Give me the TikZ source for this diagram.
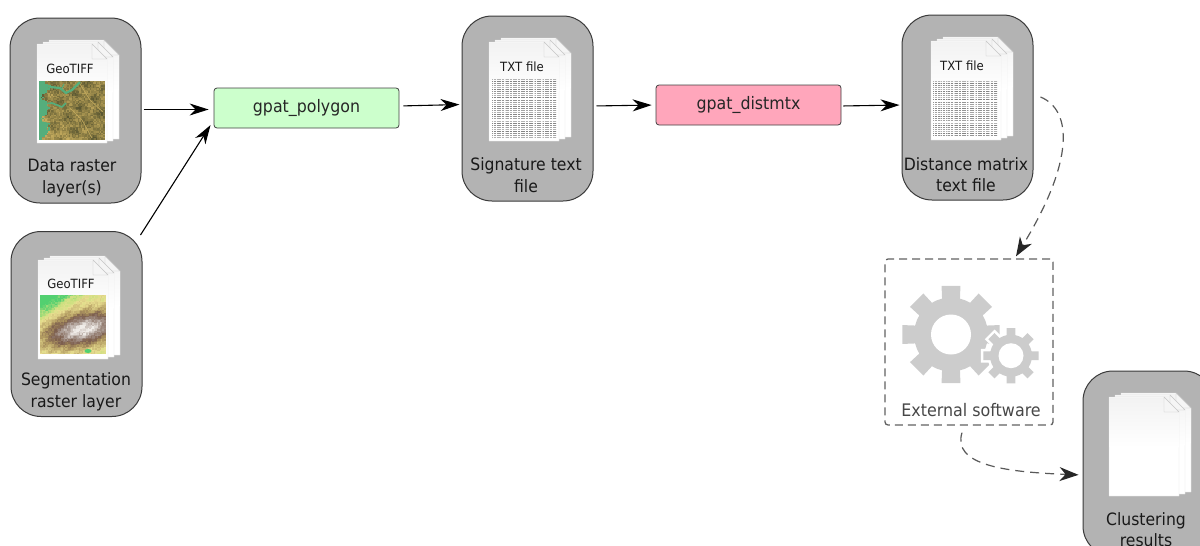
\documentclass[tikz,border=0pt]{standalone}
\usepackage{fontspec}
\setmainfont[FakeStretch=0.92]{DejaVu Sans}
\usetikzlibrary{arrows.meta,calc}
\definecolor{boxgray}{HTML}{B3B3B3}
\definecolor{boxline}{HTML}{3A3A3A}
\definecolor{gearc}{HTML}{CCCCCC}
\definecolor{sa}{HTML}{52D070}\definecolor{sb}{HTML}{C8E07E}\definecolor{sc}{HTML}{E8DE90}
\definecolor{sd}{HTML}{B39C62}\definecolor{se}{HTML}{7D5F4E}\definecolor{sf}{HTML}{AD9E96}\definecolor{sg}{HTML}{F0ECE8}
\definecolor{da}{HTML}{5A5732}\definecolor{db}{HTML}{8F8045}\definecolor{dc}{HTML}{C4AB5E}\definecolor{dg}{HTML}{55AE7C}
\tikzset{
  filebox/.style={draw=boxline,fill=boxgray,line width=1pt,rounded corners=30pt,minimum width=131pt,minimum height=185pt,inner sep=0pt},
  boxtext/.style={font=\fontsize{17}{21.5}\selectfont,align=center,text=black!90,inner sep=0pt},
  filetag/.style={font=\fontsize{12.7}{14}\selectfont,inner sep=0pt,text=black!90},
  toolbox/.style={draw=black!75,line width=.8pt,rounded corners=3pt,minimum width=185pt,minimum height=40pt,inner sep=0pt,font=\fontsize{17.2}{19}\selectfont,text=black!85},
  flow/.style={draw=black,line width=1.1pt,-{Stealth[length=19pt,width=12pt,inset=6pt]}},
  dflow/.style={draw=black!65,line width=1.2pt,dash pattern=on 9pt off 6pt,-{Stealth[length=19pt,width=14pt,inset=6pt,color=black!85]}},
  pagesheet/.style={fill=white,draw=black!12,line width=.4pt},
}
\newcommand\onesheet[2]{%
  \fill[pagesheet] (#1,#2) -- ++(55,0) -- ++(15,15) -- ++(0,84) -- ++(-70,0) -- cycle;
  \shade[top color=black!5,bottom color=white] (#1+.4,#2+.4) -- ++(54.4,0) -- ++(15,15) -- ++(0,35) -- ++(-69.4,0) -- cycle;
  \fill[black!4,draw=black!22,line width=.4pt] (#1+55,#2) -- ++(15,15) -- ++(-15,0) -- cycle;
}
\newcommand\pagestack[2]{%
  \onesheet{#1+12}{#2-4}\onesheet{#1+6}{#2-2}\onesheet{#1}{#2}%
}
\newcommand\mixc[3]{\pgfmathsetmacro\pp{min(100,max(0,100*(#3)))}\colorlet{cc}{#2!\pp!#1}}
\newcommand\segcol[1]{%
  \ifdim#1pt<.16pt\mixc{sa}{sb}{#1/.16}%
  \else\ifdim#1pt<.3pt\mixc{sb}{sc}{(#1-.16)/.14}%
  \else\ifdim#1pt<.5pt\mixc{sc}{sd}{(#1-.3)/.2}%
  \else\ifdim#1pt<.66pt\mixc{sd}{se}{(#1-.5)/.16}%
  \else\ifdim#1pt<.84pt\mixc{se}{sf}{(#1-.66)/.18}%
  \else\mixc{sf}{sg}{(#1-.84)/.16}\fi\fi\fi\fi\fi}
\newcommand\datacol[1]{%
  \ifdim#1pt<.5pt\mixc{da}{db}{#1/.5}\else\mixc{db}{dc}{(#1-.5)/.5}\fi}
% text block: x0 y0 width rows colgap-list
\newcommand\textblock[5]{%
  \foreach \r in {0,...,#4}{%
    \pgfmathsetmacro\yy{#2+\r*2.1}
    \pgfmathsetmacro\shadeop{30+mod(\r*7,4)*6}
    \draw[black!\shadeop,line width=1pt,dash pattern=on 1.2pt off .4pt]
      (#1,\yy) -- (#1+#3,\yy);
  }
  \foreach \c in {#5}{\draw[white,opacity=.55,line width=.9pt] (#1+\c,#2-.5) -- (#1+\c,#2+#4*2.1+.5);}%
}
\newcommand\gearshape[6]{% cx cy rout rroot halfwidth-angle style
  \begin{scope}[shift={(#1,#2)}]
    \path[#6] (-22:#4)
      \foreach \a in {0,45,...,315}{
        -- (\a-22:#4) -- (\a-#5-3:#4) -- (\a-#5:#3) -- (\a+#5:#3) -- (\a+#5+3:#4) -- (\a+22:#4)
      } -- cycle;
  \end{scope}}
\begin{document}
\begin{tikzpicture}[x=1pt,y=-1pt]
\useasboundingbox (0,0) rectangle (1200,546);
\clip (0,0) rectangle (1200,546);

% file boxes
\node[filebox] (data) at (75.5,110.5) {};
\node[filebox] (seg) at (76.5,324) {};
\node[filebox] (sig) at (527.5,108.5) {};
\node[filebox] (dist) at (967.5,107.5) {};
\node[filebox] (clust) at (1148.5,463.5) {};

\pagestack{37}{44}
\pagestack{38}{260}
\pagestack{489}{42}
\pagestack{931}{41}
\pagestack{1109}{397}

% data map
\pgfmathsetseed{4242}
\foreach \i in {0,...,43}{\foreach \j in {0,...,39}{%
  \pgfmathsetmacro\fx{\i/43}\pgfmathsetmacro\fy{\j/39}
  \pgfmathsetmacro\vv{min(1,max(0,.47+.1*sin(\i*19+\j*27)+.1*sin(\i*31-\j*13)+.08*sin(\i*11-\j*41)+.26*rand+.45*max(0,\fy-\fx-.2)))}
  \datacol{\vv}
  \pgfmathparse{(\fx<.09+.05*sin(\j*25)+.03*rand)?1:0}
  \ifdim\pgfmathresult pt>.5pt\colorlet{cc}{dg}\fi
  \fill[cc] (39.3+\i*1.48,80.7+\j*1.48) rectangle ++(1.7,1.7);
}}
\draw[dg,line width=2.2pt,line join=round] (40,83) -- (50,87) -- (60,88) -- (66,93) -- (72,90) -- (80,82);
\draw[dg,line width=1.6pt,line join=round] (41,104) -- (52,103) -- (62,107) -- (66,103);
\draw[dg,line width=1.6pt] (41,122) -- (50,124);
\draw[dg,line width=1pt] (62,88) -- (64,84);
\draw[dc,line width=.6pt] (70,108) -- (82,120) -- (92,138);
\draw[dc,line width=.6pt] (80,84) -- (90,100) -- (103,112);

% segmentation map
\foreach \i in {0,...,43}{\foreach \j in {0,...,39}{%
  \pgfmathsetmacro\fx{\i/43}\pgfmathsetmacro\fy{\j/39}
  \pgfmathsetmacro\uu{(\fx-.66)*cos(15)-(\fy-.58)*sin(15)}
  \pgfmathsetmacro\ww{(\fx-.66)*sin(15)+(\fy-.58)*cos(15)}
  \pgfmathsetmacro\hh{exp(-(\uu/.62)^2-(\ww/.28)^2)}
  \pgfmathsetmacro\gg{max(0,1-(\fx+1.4*\fy)/.75)}
  \pgfmathsetmacro\vv{min(1,max(0,.24-.42*\gg+.76*\hh+.04*sin(\i*37+\j*43)+.05*rand))}
  \segcol{\vv}
  \fill[cc] (40.3+\i*1.48,295+\j*1.48) rectangle ++(1.7,1.7);
}}
\fill[sa] (88,351) ellipse (3.5pt and 2pt);

% text blocks
\textblock{492}{79}{64}{28}{13,25,33,42,50}
\textblock{933}{81}{64}{26}{7,14,21,28,35,42,49,56}

% file tags
\node[filetag] (tag1) at (70,69) {GeoTIFF};
\node[filetag] (tag2) at (71,284) {GeoTIFF};
\node[filetag] (tag3) at (522,66.5) {TXT file};
\node[filetag] (tag4) at (962,66) {TXT file};

% box captions
\node[boxtext] (datat) at (72,178) {Data raster\\layer(s)};
\node[boxtext] (segt) at (76,392) {Segmentation\\raster layer};
\node[boxtext] (sigt) at (526,175) {Signature text\\file};
\node[boxtext] (distt) at (966,174.5) {Distance matrix\\text file};
\node[boxtext] (clustt) at (1146,529.5) {Clustering\\results};

% tools
\node[toolbox,fill=green!20!white] (poly) at (306.5,108) {gpat\_polygon};
\node[toolbox,fill={rgb,255:red,255;green,166;blue,187}] (dm) at (748.5,105) {gpat\_distmtx};

% external software
\node[draw=black!62,line width=1.3pt,dash pattern=on 8pt off 5pt,rounded corners=3pt,minimum width=168pt,minimum height=166pt,inner sep=0pt] (ext) at (969,342) {};
\gearshape{951}{334.5}{49.5}{37}{11}{fill=gearc}
\fill[white] (951,334.5) circle (20pt);
\gearshape{1011}{355.7}{28}{21}{9}{fill=white,draw=white,line width=5pt}
\gearshape{1011}{355.7}{28}{21}{9}{fill=gearc}
\fill[white] (1011,355.7) circle (12.5pt);
\node[font=\fontsize{17.3}{19}\selectfont,text=black!72,inner sep=0pt] (extt) at (971,410) {External software};

% connectors
\draw[flow,shorten <=2pt,shorten >=5pt] ([yshift=1pt]data.east) -- (poly.west |- 0,109.5);
\draw[flow,shorten >=2pt] ([xshift=-2pt,yshift=-4pt]seg.north east) -- ([xshift=-2pt,yshift=5pt]poly.south west);
\draw[flow,shorten <=4pt,shorten >=2pt] ([yshift=2pt]poly.east) -- ([yshift=4pt]sig.west);
\draw[flow,shorten <=3pt,shorten >=4pt] ([yshift=2.5pt]sig.east) -- (dm.west);
\draw[flow,shorten <=2pt,shorten >=2pt] ([yshift=-1pt]dm.east) -- ([yshift=2.5pt]dist.west);
\coordinate (dstart) at ([xshift=7pt,yshift=10.5pt]dist.east);
\coordinate (dend) at ([xshift=47pt,yshift=2pt]ext.north);
\draw[dflow] (dstart) .. controls (1072,110) and (1075,160) .. (dend);
\coordinate (estart) at ([xshift=-7pt,yshift=-7pt]ext.south);
\draw[dflow,shorten >=4pt] (estart) .. controls (952,465) and (1005,472) .. (clust.west |- 0,475);
\end{tikzpicture}
\end{document}
